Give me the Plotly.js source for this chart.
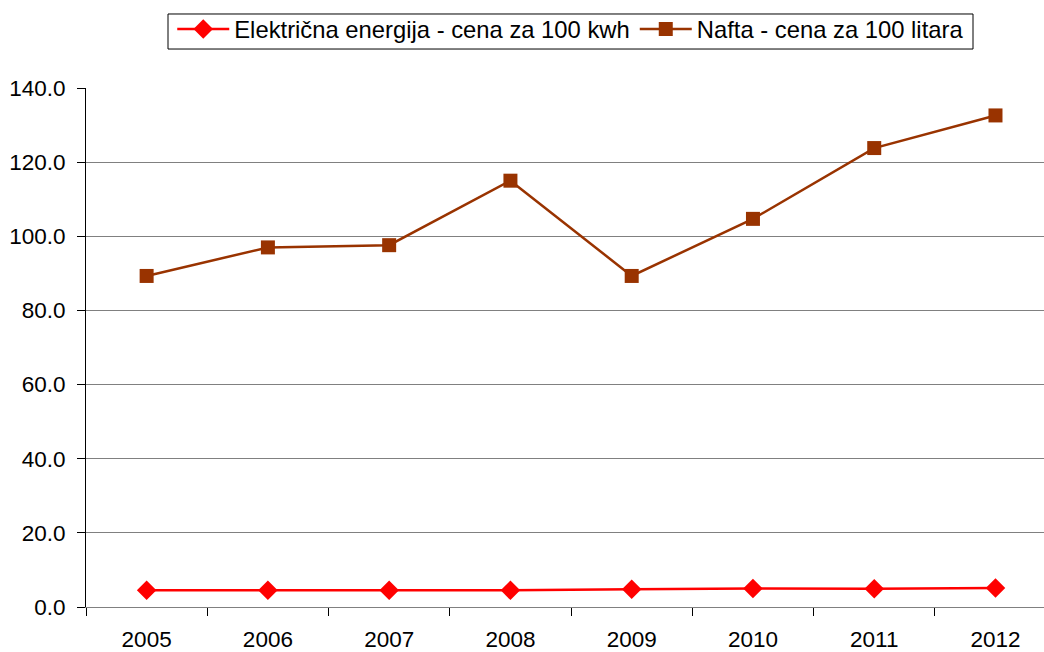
<!DOCTYPE html>
<html>
<head>
<meta charset="utf-8">
<script src="https://cdn.plot.ly/plotly-3.0.1.min.js"></script>
<style>html,body{margin:0;padding:0;background:#fff;}#chart{width:1044px;height:652px;}</style>
</head>
<body>
<div id="chart"></div>
<script>
const years = ["2005","2006","2007","2008","2009","2010","2011","2012"];
const struja = [4.5, 4.5, 4.5, 4.5, 4.8, 5.0, 4.9, 5.1];
const nafta = [89.3, 97.0, 97.6, 115.0, 89.3, 104.7, 123.8, 132.6];
const seriesNames = ["Električna energija - cena za 100 kwh", "Nafta - cena za 100 litara"];
const yTicks = [0, 20, 40, 60, 80, 100, 120, 140];

const traces = [
  {x: years, y: struja, name: seriesNames[0], type: "scatter", mode: "lines+markers",
   line: {color: "#FF0000", width: 2.5}, marker: {symbol: "diamond", size: 15, color: "#FF0000"}},
  {x: years, y: nafta, name: seriesNames[1], type: "scatter", mode: "lines+markers",
   line: {color: "#993300", width: 2.5}, marker: {symbol: "square", size: 14, color: "#993300"}}
];

const layout = {
  width: 1044, height: 652,
  margin: {l: 86, r: 0, t: 88, b: 45},
  paper_bgcolor: "#fff", plot_bgcolor: "#fff",
  font: {family: "Liberation Sans, Arial, sans-serif", size: 22.5, color: "#000"},
  showlegend: true,
  legend: {orientation: "h", x: 0.506, xanchor: "center", y: 1.156, yanchor: "top",
           borderwidth: 0, bgcolor: "rgba(0,0,0,0)",
           font: {size: 23.8}, itemwidth: 52, traceorder: "normal"},
  shapes: [{type: "rect", xref: "paper", yref: "paper", x0: 0.0856, x1: 0.9259, y0: 1.0751, y1: 1.1426,
            line: {color: "#000", width: 1}, fillcolor: "rgba(0,0,0,0)", layer: "above"}],
  xaxis: {type: "category", range: [-0.5, 7.4], showgrid: false, zeroline: false,
          showline: true, linecolor: "#808080", linewidth: 1, automargin: false,
          ticks: "outside", tickson: "boundaries", ticklen: 8, tickcolor: "#000",
          ticklabelstandoff: 12, tickfont: {size: 22.5}},
  yaxis: {range: [0, 140], tickvals: yTicks, tickformat: ".1f", showgrid: true,
          gridcolor: "#808080", gridwidth: 1, zeroline: false, automargin: false,
          showline: true, linecolor: "#000", linewidth: 1,
          ticks: "outside", ticklen: 8, tickcolor: "#000",
          ticklabelstandoff: 7, tickfont: {size: 22.5}}
};

Plotly.newPlot("chart", traces, layout, {displayModeBar: false});
</script>
</body>
</html>
